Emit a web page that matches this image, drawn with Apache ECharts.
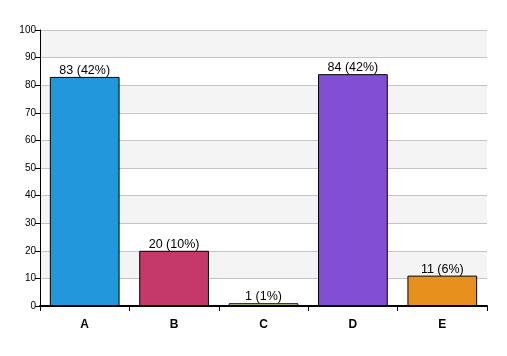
<!DOCTYPE html>
<html><head><meta charset="utf-8">
<script src="https://cdn.jsdelivr.net/npm/echarts@6/dist/echarts.min.js"></script>
<style>html,body{margin:0;padding:0;background:#fff}#c{width:507px;height:356px}</style>
</head><body><div id="c"></div>
<script>
var categories = ['A', 'B', 'C', 'D', 'E'];
var counts = [83, 20, 1, 84, 11];
var percents = [42, 10, 1, 42, 6];
var barColors = ['#2397dc', '#c4386a', '#d6df86', '#824fd4', '#e8901e'];
var yTicks = [0, 100, 10];

var chart = echarts.init(document.getElementById('c'), null, {renderer: 'canvas'});
chart.setOption({
  animation: false,
  grid: {left: 40, right: 20, top: 30, bottom: 50},
  xAxis: {
    type: 'category', data: categories,
    axisLine: {lineStyle: {color: '#000', width: 2}},
    axisTick: {show: true, length: 5, lineStyle: {color: '#000'}},
    axisLabel: {color: '#000', fontWeight: 'bold', fontSize: 12, fontFamily: 'Liberation Sans, Arial', margin: 13}
  },
  yAxis: {
    type: 'value', min: yTicks[0], max: yTicks[1], interval: yTicks[2],
    axisLine: {show: true, lineStyle: {color: '#000', width: 1}},
    axisTick: {show: true, length: 5, lineStyle: {color: '#000'}},
    axisLabel: {color: '#000', fontSize: 10, fontFamily: 'Liberation Sans, Arial', margin: 4},
    splitLine: {show: true, lineStyle: {color: '#c4c4c4', width: 1}},
    splitArea: {show: true, areaStyle: {color: ['#ffffff', '#f4f4f4']}}
  },
  series: [{
    type: 'bar',
    barCategoryGap: '22%',
    data: counts.map(function (v, i) {
      return {value: v, itemStyle: {color: barColors[i]}};
    }),
    itemStyle: {borderColor: '#000', borderWidth: 1},
    label: {
      show: true, position: 'top', distance: 0, color: '#000', fontSize: 12.5,
      fontFamily: 'Liberation Sans, Arial',
      formatter: function (p) { return counts[p.dataIndex] + ' (' + percents[p.dataIndex] + '%)'; }
    }
  }]
});
</script></body></html>
